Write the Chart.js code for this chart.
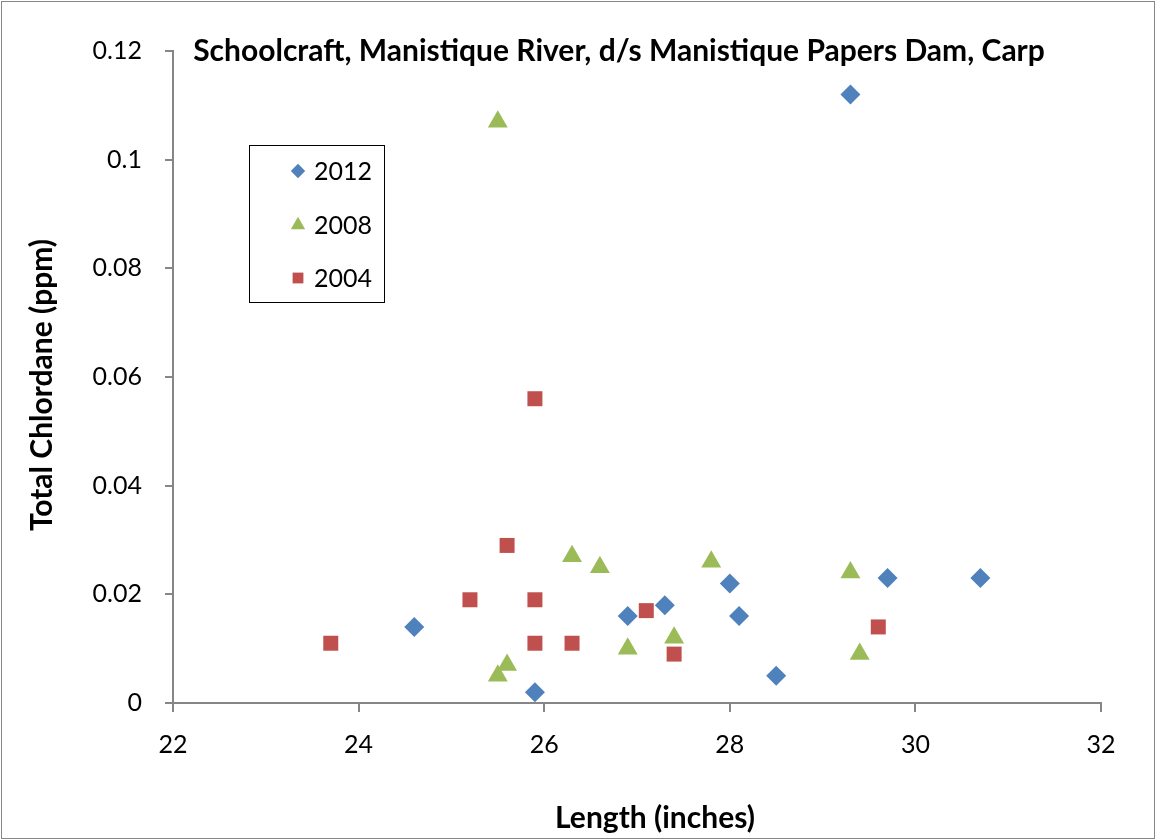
<html lang="en">
  <head>
    <meta charset="utf-8">
    <title>Schoolcraft Carp chlordane</title>
    <style>
      body { margin: 0; background: white; }
      .chartBox { width: 1156px; height: 840px; }
    </style>
  </head>
  <body>
    <div class="chartBox">
      <canvas id="myChart" width="1156" height="840"></canvas>
    </div>

    <script type="text/javascript" src="https://cdn.jsdelivr.net/npm/chart.js/dist/chart.umd.min.js"></script>
    <script>
    // data
    const len2012 = [24.6, 25.9, 26.9, 27.3, 28.0, 28.1, 28.5, 29.3, 29.7, 30.7];
    const chl2012 = [0.014, 0.002, 0.016, 0.018, 0.022, 0.016, 0.005, 0.112, 0.023, 0.023];
    const len2008 = [25.5, 25.5, 25.6, 26.3, 26.6, 26.9, 27.4, 27.8, 29.3, 29.4];
    const chl2008 = [0.107, 0.005, 0.007, 0.027, 0.025, 0.010, 0.012, 0.026, 0.024, 0.009];
    const len2004 = [23.7, 25.2, 25.6, 25.9, 25.9, 25.9, 26.3, 27.1, 27.4, 29.6];
    const chl2004 = [0.011, 0.019, 0.029, 0.056, 0.019, 0.011, 0.011, 0.017, 0.009, 0.014];
    const xTicks = [22, 24, 26, 28, 30, 32];
    const yTicks = [0, 0.02, 0.04, 0.06, 0.08, 0.1, 0.12];

    const toPts = (xs, ys) => xs.map((x, i) => ({x: x, y: ys[i]}));
    const FONT = 'Lato, "Open Sans", sans-serif';
    const AXIS = '#868686';

    const data = {
      datasets: [{
        label: '2012',
        data: toPts(len2012, chl2012),
        pointStyle: 'rectRot',
        pointRadius: 10,
        backgroundColor: '#4F81BD',
        borderColor: '#4F81BD',
        borderWidth: 0
      }, {
        label: '2008',
        data: toPts(len2008, chl2008),
        pointStyle: 'triangle',
        pointRadius: 11.5,
        backgroundColor: '#9BBB59',
        borderColor: '#9BBB59',
        borderWidth: 0
      }, {
        label: '2004',
        data: toPts(len2004, chl2004),
        pointStyle: 'rect',
        pointRadius: 10.6,
        backgroundColor: '#C0504D',
        borderColor: '#C0504D',
        borderWidth: 0
      }]
    };

    // frame, title, axis titles and the boxed legend
    const decorations = {
      id: 'decorations',
      beforeDraw(chart) {
        const {ctx, width, height} = chart;
        ctx.save();
        ctx.fillStyle = 'white';
        ctx.fillRect(0, 0, width, height);
        ctx.strokeStyle = '#868686';
        ctx.lineWidth = 1;
        ctx.strokeRect(1.5, 1.5, width - 3, height - 3);
        ctx.restore();
      },
      afterDraw(chart) {
        const {ctx} = chart;
        ctx.save();
        ctx.fillStyle = 'black';
        ctx.textBaseline = 'middle';

        ctx.font = 'bold 30px ' + FONT;
        ctx.textAlign = 'center';
        ctx.fillText('Schoolcraft, Manistique River, d/s Manistique Papers Dam, Carp', 619, 51);

        ctx.font = 'bold 30px ' + FONT;
        ctx.fillText('Length (inches)', 655, 818);
        ctx.save();
        ctx.translate(42, 385);
        ctx.rotate(-Math.PI / 2);
        ctx.fillText('Total Chlordane (ppm)', 0, 0);
        ctx.restore();

        // legend
        ctx.strokeStyle = 'black';
        ctx.lineWidth = 1;
        ctx.strokeRect(249.5, 145.5, 135, 157);
        ctx.font = '25px ' + FONT;
        ctx.textAlign = 'left';
        const rows = [171, 225, 278];
        chart.data.datasets.forEach((ds, i) => {
          const opts = {pointStyle: ds.pointStyle, radius: ds.pointRadius * 0.72, rotation: 0, borderWidth: 0};
          ctx.fillStyle = ds.backgroundColor;
          ctx.strokeStyle = ds.backgroundColor;
          Chart.helpers.drawPoint(ctx, opts, 298, rows[i]);
          ctx.fillStyle = 'black';
          ctx.fillText(ds.label, 314, rows[i] + 1);
        });
        ctx.restore();
      }
    };

    const config = {
      type: 'scatter',
      data,
      options: {
        responsive: false,
        animation: false,
        layout: { padding: { left: 0, top: 51, right: 55, bottom: 0 } },
        plugins: {
          legend: { display: false },
          tooltip: { enabled: false }
        },
        scales: {
          x: {
            min: 22, max: 32,
            afterBuildTicks: (s) => { s.ticks = xTicks.map(v => ({value: v})); },
            afterFit: (s) => { s.height = 137; },
            border: { color: AXIS, width: 2 },
            grid: { drawOnChartArea: false, drawTicks: true, tickLength: 9, color: AXIS, lineWidth: 2 },
            ticks: { color: 'black', font: { family: FONT, size: 25 }, padding: 18 }
          },
          y: {
            min: 0, max: 0.12,
            afterBuildTicks: (s) => { s.ticks = yTicks.map(v => ({value: v})); },
            afterFit: (s) => { s.width = 173; },
            border: { color: AXIS, width: 2 },
            grid: { drawOnChartArea: false, drawTicks: true, tickLength: 8, color: AXIS, lineWidth: 2 },
            ticks: {
              color: 'black', font: { family: FONT, size: 25 }, padding: 23,
              callback: (v) => String(Math.round(v * 100) / 100)
            }
          }
        }
      },
      plugins: [decorations]
    };

    const myChart = new Chart(document.getElementById('myChart'), config);
    </script>
  </body>
</html>
